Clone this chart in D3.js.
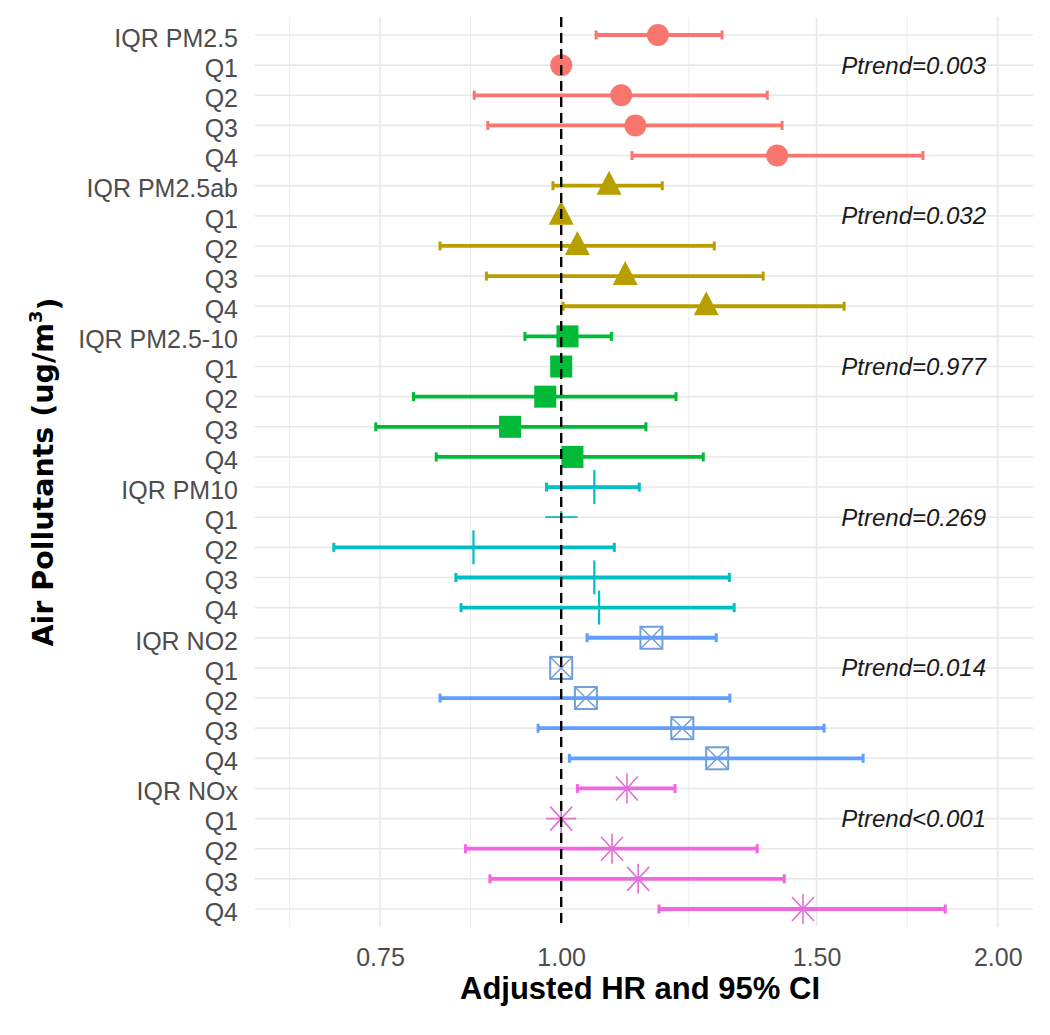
<!DOCTYPE html>
<html>
<head>
<meta charset="utf-8">
<script src="https://cdn.jsdelivr.net/npm/d3@7"></script>
<style>
  body { margin: 0; background: #ffffff; }
</style>
</head>
<body>
<svg width="1050" height="1035"></svg>
<script>
// rows, top to bottom
var rowLabels = ["IQR PM2.5", "Q1", "Q2", "Q3", "Q4",
                 "IQR PM2.5ab", "Q1", "Q2", "Q3", "Q4",
                 "IQR PM2.5-10", "Q1", "Q2", "Q3", "Q4",
                 "IQR PM10", "Q1", "Q2", "Q3", "Q4",
                 "IQR NO2", "Q1", "Q2", "Q3", "Q4",
                 "IQR NOx", "Q1", "Q2", "Q3", "Q4"];
var pollutants = ["PM2.5", "PM2.5ab", "PM2.5-10", "PM10", "NO2", "NOx"];

var hr    = [1.166, 1.00, 1.100, 1.125, 1.409,
             1.079, 1.00, 1.026, 1.107, 1.259,
             1.010, 1.00, 0.975, 0.922, 1.018,
             1.054, 1.00, 0.870, 1.054, 1.062,
             1.154, 1.00, 1.040, 1.212, 1.281,
             1.110, 1.00, 1.084, 1.130, 1.468];
var lower = [1.057, null, 0.871, 0.890, 1.119,
             0.987, null, 0.825, 0.888, 1.003,
             0.944, null, 0.791, 0.745, 0.820,
             0.977, 0.975, 0.697, 0.846, 0.853,
             1.042, null, 0.825, 0.964, 1.013,
             1.026, null, 0.859, 0.893, 1.168];
var upper = [1.291, null, 1.387, 1.420, 1.776,
             1.174, null, 1.275, 1.378, 1.567,
             1.083, null, 1.200, 1.144, 1.253,
             1.132, 1.026, 1.088, 1.306, 1.316,
             1.279, null, 1.307, 1.518, 1.615,
             1.198, null, 1.365, 1.425, 1.840];
var ptrend = ["Ptrend=0.003", "Ptrend=0.032", "Ptrend=0.977",
              "Ptrend=0.269", "Ptrend=0.014", "Ptrend<0.001"];
var ptrendX = 1.75;
var xTicks = [0.75, 1.00, 1.50, 2.00];

var svg = d3.select("svg");
// panel edges (window.top is reserved, so no "top" here)
var pLeft = 255, pRight = 1033, pTop = 17, pBottom = 927;

var x = d3.scaleLog().domain([0.615, 2.115]).range([pLeft, pRight]);
var y = d3.scalePoint().domain(d3.range(rowLabels.length)).range([35, 909]);
var color = d3.scaleOrdinal(pollutants, ["#F8766D", "#B79F00", "#00BA38", "#00BFC4", "#619CFF", "#F564E3"]);

var data = rowLabels.map(function(l, i) {
    return { i: i, label: l, g: pollutants[Math.floor(i / 5)], hr: hr[i], lo: lower[i], hi: upper[i] };
});

svg.append("rect").attr("width", 1050).attr("height", 1035).attr("fill", "#ffffff");

// minor breaks: halfway between majors in log space (plus one each side)
var n = xTicks.length;
var ext = [xTicks[0] * xTicks[0] / xTicks[1]].concat(xTicks, [xTicks[n - 1] * xTicks[1] / xTicks[0]]);
var minor = d3.pairs(ext).map(function(p) { return Math.sqrt(p[0] * p[1]); })
    .filter(function(v) { return x(v) >= pLeft && x(v) <= pRight; });

var grid = svg.append("g");
grid.selectAll(".minor").data(minor).enter().append("line")
    .attr("x1", d => x(d)).attr("x2", d => x(d))
    .attr("y1", pTop).attr("y2", pBottom)
    .attr("stroke", "#ededed").attr("stroke-width", 1);
grid.selectAll(".vmajor").data(xTicks).enter().append("line")
    .attr("x1", d => x(d)).attr("x2", d => x(d))
    .attr("y1", pTop).attr("y2", pBottom)
    .attr("stroke", "#e8e8e8").attr("stroke-width", 1.6);
grid.selectAll(".hmajor").data(data).enter().append("line")
    .attr("x1", pLeft).attr("x2", pRight)
    .attr("y1", d => y(d.i)).attr("y2", d => y(d.i))
    .attr("stroke", "#e8e8e8").attr("stroke-width", 1.6);

// axes
var xAxis = svg.append("g")
    .attr("transform", "translate(0," + pBottom + ")")
    .call(d3.axisBottom(x).tickValues(xTicks).tickFormat(d3.format(".2f")).tickSize(0).tickPadding(21));
xAxis.select(".domain").remove();
xAxis.selectAll("text")
    .attr("fill", "#4d4d4d")
    .style("font-family", "'Liberation Sans', Arial, sans-serif")
    .style("font-size", "25px");

var yAxis = svg.append("g")
    .attr("transform", "translate(" + pLeft + ",0)")
    .call(d3.axisLeft(y).tickFormat(function(i) { return rowLabels[i]; }).tickSize(0).tickPadding(17));
yAxis.select(".domain").remove();
yAxis.selectAll("text")
    .attr("fill", "#4d4d4d")
    .attr("dy", "0.45em")
    .style("font-family", "'Liberation Sans', Arial, sans-serif")
    .style("font-size", "25px");

// error bars
var bars = svg.append("g").selectAll("g")
    .data(data.filter(d => d.lo != null))
    .enter().append("g")
    .attr("stroke", d => color(d.g));
bars.append("line")
    .attr("x1", d => x(d.lo)).attr("x2", d => x(d.hi))
    .attr("y1", d => y(d.i)).attr("y2", d => y(d.i))
    .attr("stroke-width", d => d.label == "Q1" ? 1.8 : 3.8);
bars.selectAll(".cap")
    .data(d => [{ v: d.lo, i: d.i, q: d.label }, { v: d.hi, i: d.i, q: d.label }])
    .enter().append("line")
    .attr("x1", d => x(d.v)).attr("x2", d => x(d.v))
    .attr("y1", d => y(d.i) - 4.5).attr("y2", d => y(d.i) + 4.5)
    .attr("stroke-width", d => d.q == "Q1" ? 0 : 3);

// markers, one shape per pollutant
var pts = svg.append("g").selectAll("g")
    .data(data)
    .enter().append("g")
    .attr("transform", d => "translate(" + x(d.hr) + "," + y(d.i) + ")");

pts.each(function(d) {
    var g = d3.select(this), c = color(d.g);
    if (d.g == "PM2.5") {
        g.append("circle").attr("r", 11).attr("fill", c);
    } else if (d.g == "PM2.5ab") {
        g.append("path").attr("d", "M0,-15L12.5,9L-12.5,9Z").attr("fill", c);
    } else if (d.g == "PM2.5-10") {
        g.append("rect").attr("x", -11).attr("y", -11).attr("width", 22).attr("height", 22).attr("fill", c);
    } else if (d.g == "PM10") {
        var h = d.label == "Q1" ? 6 : 17;
        g.append("line").attr("y1", -h).attr("y2", h).attr("stroke", c).attr("stroke-width", 2.2);
    } else if (d.g == "NO2") {
        g.append("rect").attr("x", -11).attr("y", -11).attr("width", 22).attr("height", 22)
            .attr("fill", "none").attr("stroke", "#6f9fd8").attr("stroke-width", 2);
        g.append("path").attr("d", "M-11,-11L11,11M-11,11L11,-11")
            .attr("stroke", "#6f9fd8").attr("stroke-width", 1.4);
    } else {
        g.append("path").attr("d", "M0,-15V15M-15,0H15M-11,-12L11,12M-11,12L11,-12")
            .attr("stroke", "#e070d6").attr("stroke-width", 1.6).attr("fill", "none");
    }
});

// reference line at HR = 1
svg.append("line")
    .attr("x1", x(1)).attr("x2", x(1))
    .attr("y1", pTop).attr("y2", pBottom)
    .attr("stroke", "#000").attr("stroke-width", 2.4)
    .attr("stroke-dasharray", "10,6");

// p for trend, on each Q1 row
svg.append("g").selectAll("text")
    .data(ptrend)
    .enter().append("text")
    .attr("x", x(ptrendX))
    .attr("y", (d, k) => y(k * 5 + 1))
    .attr("dy", "0.35em")
    .attr("text-anchor", "middle")
    .attr("fill", "#1a1a1a")
    .style("font-family", "'Liberation Sans', Arial, sans-serif")
    .style("font-style", "italic")
    .style("font-size", "24px")
    .text(d => d);

// axis titles
svg.append("text")
    .attr("x", (pLeft + pRight) / 2 - 4)
    .attr("y", 999)
    .attr("text-anchor", "middle")
    .attr("fill", "#000")
    .style("font-family", "'Liberation Sans', Arial, sans-serif")
    .style("font-weight", "bold")
    .style("font-size", "31px")
    .text("Adjusted HR and 95% CI");

var yt = svg.append("text")
    .attr("transform", "translate(53," + (pTop + pBottom) / 2 + ") rotate(-90)")
    .attr("text-anchor", "middle")
    .attr("fill", "#000")
    .style("font-family", "'DejaVu Sans', sans-serif")
    .style("font-weight", "bold")
    .style("font-size", "28.5px");
yt.append("tspan").text("Air Pollutants (ug/m");
yt.append("tspan").attr("dy", "-0.6em").style("font-size", "18px").text("3");
yt.append("tspan").attr("dy", "0.6em").text(")");
</script>
</body>
</html>
